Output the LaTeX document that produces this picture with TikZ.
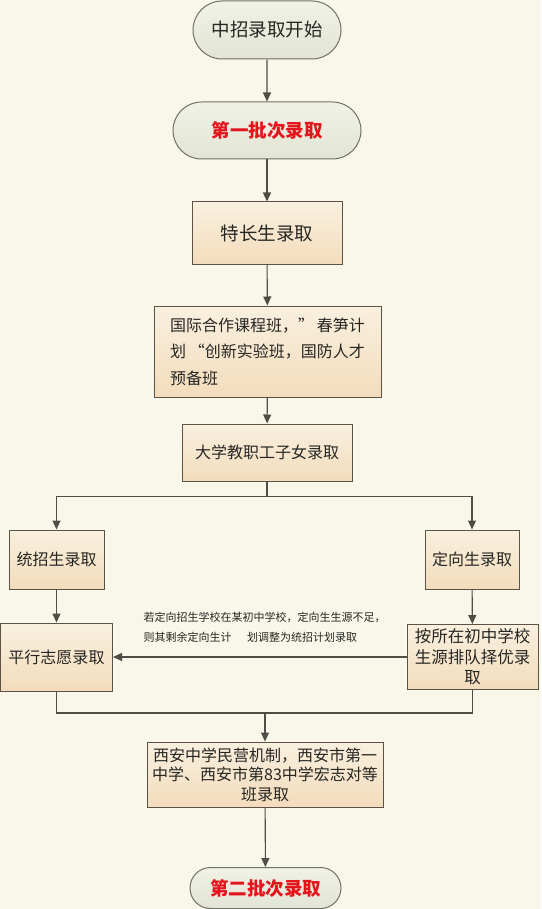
\documentclass[tikz,border=0pt]{standalone}
\usepackage{fontspec}
\setmainfont{Noto Sans CJK SC}
\usetikzlibrary{arrows.meta,shapes.misc}

\definecolor{bgcream}{HTML}{F8F7EA}
\definecolor{boxtop}{HTML}{F9F0DF}
\definecolor{boxbot}{HTML}{F3DCBC}
\definecolor{boxline}{HTML}{5C5246}
\definecolor{pilltop}{HTML}{F1F2E6}
\definecolor{pillbot}{HTML}{E2E4D5}
\definecolor{pillline}{HTML}{707066}
\definecolor{arrowc}{HTML}{4E4E46}
\definecolor{textdark}{HTML}{262622}
\definecolor{batchred}{HTML}{E5141C}

\begin{document}
\begin{tikzpicture}[x=1pt, y=-1pt,
    box/.style={draw=boxline, line width=1pt, top color=boxtop, bottom color=boxbot,
      text=textdark, inner sep=0pt, align=center, font=\fontsize{16pt}{20pt}\selectfont},
    pill/.style={rounded rectangle, draw=pillline, line width=1pt, top color=pilltop,
      bottom color=pillbot, text=textdark, inner sep=0pt, font=\fontsize{18.5pt}{22pt}\selectfont},
    batch/.style={text=batchred, font=\fontsize{18.5pt}{22pt}\selectfont\bfseries},
    flow/.style={draw=arrowc, line width=1.1pt, -{Triangle[length=9pt,width=8pt]}},
    link/.style={draw=arrowc, line width=1.1pt}]
  \fill[bgcream] (0,0) rectangle (541,909);
  \node[pill, minimum width=148, minimum height=58] (start) at (267,30) {中招录取开始};
  \node[pill, batch, minimum width=188, minimum height=57] (batch1) at (267,130.5) {第一批次录取};
  \node[box, minimum width=150, minimum height=62, font=\fontsize{18.5pt}{22pt}\selectfont] (techang) at (267,233) {特长生录取};
  \node[box, minimum width=227, minimum height=91, align=left,
    font=\fontsize{16pt}{26.5pt}\selectfont] (intl) at (267.5,351.5)
    {国际合作课程班，”\,春笋计\\划\,“创新实验班，国防人才\\预备班};
  \node[box, minimum width=170, minimum height=57] (univ) at (267,452.5) {大学教职工子女录取};
  \coordinate (split) at (267,496.5);
  \node[box, minimum width=95, minimum height=59] (tongzhao) at (56.5,559.5) {统招生录取};
  \node[box, minimum width=94, minimum height=59] (dingxiang) at (472,559.5) {定向生录取};
  \node[box, minimum width=112, minimum height=68] (pingxing) at (56.5,657) {平行志愿录取};
  \node[box, minimum width=131, minimum height=65, font=\fontsize{16.5pt}{20.5pt}\selectfont] (anzhao) at (472.5,657)
    {按所在初中学校\\生源排队择优录\\取};
  \node[anchor=west, align=left, text=textdark, inner sep=0pt,
    font=\fontsize{11pt}{20pt}\selectfont] (note) at (143.5,627.5)
    {若定向招生学校在某初中学校，定向生生源不足，\\则其剩余定向生计\hspace{1.4em}划调整为统招计划录取};
  \coordinate (merge) at (265,713);
  \node[box, minimum width=236, minimum height=65, font=\fontsize{16pt}{19.5pt}\selectfont] (xian) at (265,774.5)
    {西安中学民营机制，西安市第一\\中学、西安市第83中学宏志对等\\班录取};
  \node[pill, batch, minimum width=151, minimum height=41] (batch2) at (265.5,888) {第二批次录取};
  \draw[flow] (start) -- (batch1);
  \draw[flow] (batch1) -- (techang);
  \draw[flow] (techang) -- (intl);
  \draw[flow] (intl) -- (univ);
  \draw[flow] (univ.south) -- (split) -| (tongzhao.north);
  \draw[flow] (split) -| (dingxiang.north);
  \draw[flow] (tongzhao) -- (pingxing);
  \draw[flow] (dingxiang) -- (anzhao);
  \draw[flow] (anzhao) -- (pingxing);
  \draw[link] (pingxing.south) |- (merge) -| (anzhao.south);
  \draw[flow] (merge) -- (xian);
  \draw[flow] (xian) -- (batch2);
\end{tikzpicture}
\end{document}
